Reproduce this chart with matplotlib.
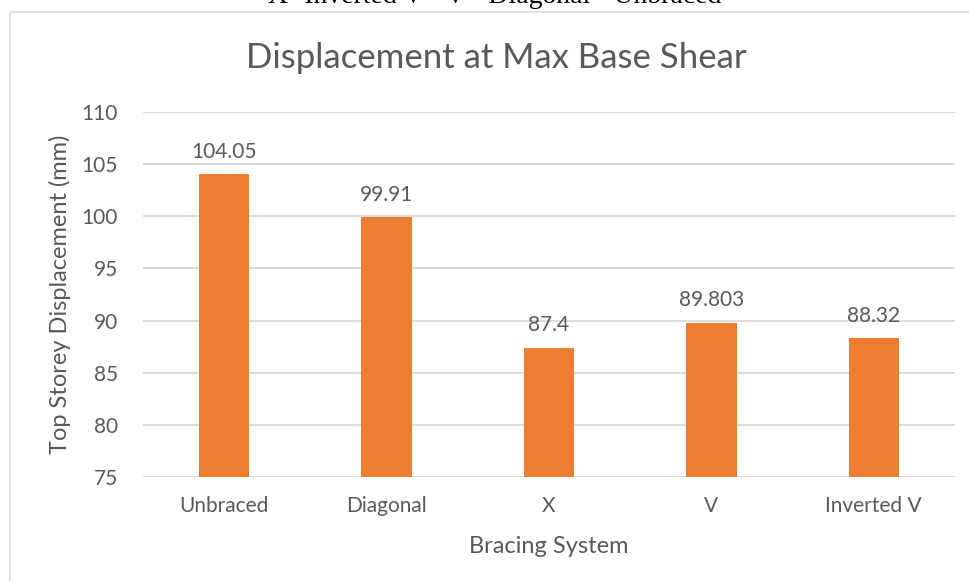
import matplotlib.pyplot as plt
from matplotlib.patches import Rectangle

# =========================
# DATA
# =========================

systems = ["Unbraced", "Diagonal", "X", "V", "Inverted V"]

displacement = [104.05, 99.91, 87.4, 89.803, 88.32]

value_labels = ["104.05", "99.91", "87.4", "89.803", "88.32"]

y_ticks = [75, 80, 85, 90, 95, 100, 105, 110]

caption = "X- Inverted V - V - Diagonal - Unbraced"

# =========================
# STYLE
# =========================

BAR = "#ED7D31"
TEXT = "#595959"
GRID = "#D9D9D9"

plt.rcParams["font.family"] = ["Lato", "DejaVu Sans"]

fig = plt.figure(figsize=(9.69, 5.81), dpi=100)

# chart frame (excel style border)
fig.patches.append(Rectangle((10 / 969, -0.01), 1.0, (581 - 12) / 581 + 0.01,
                             transform=fig.transFigure, fill=False,
                             edgecolor="#D9D9D9", linewidth=1.2))

# caption above the chart, clipped by the top edge as in the source
fig.text(495 / 969, 1.006, caption, ha="center", va="center",
         family=["Liberation Serif"], fontsize=20, color="black")

ax = fig.add_axes([143 / 969, 104 / 581, 812 / 969, 365 / 581])

x = range(len(systems))

ax.bar(x, displacement, width=0.31, color=BAR, zorder=3)

for i, v in enumerate(displacement):
    ax.text(i, v + 1.2, value_labels[i], ha="center", va="bottom",
            fontsize=15, color=TEXT)

ax.set_xlim(-0.5, len(systems) - 0.5)
ax.set_ylim(75, 110)
ax.set_yticks(y_ticks)
ax.set_xticks(list(x))
ax.set_xticklabels(systems)

ax.tick_params(axis="both", length=0, labelsize=15, colors=TEXT)
ax.tick_params(axis="x", pad=14)
ax.tick_params(axis="y", pad=18)

ax.yaxis.grid(True, color=GRID, linewidth=1.3, zorder=0)

for s in ax.spines.values():
    s.set_visible(False)

fig.text(496 / 969, 1 - 58 / 581, "Displacement at Max Base Shear",
         ha="center", va="center", fontsize=25, color=TEXT)
ax.set_xlabel("Bracing System", fontsize=17, color=TEXT, labelpad=14)
ax.set_ylabel("Top Storey Displacement (mm)", fontsize=17, color=TEXT, labelpad=8)

fig.savefig("out.png", dpi=100)
